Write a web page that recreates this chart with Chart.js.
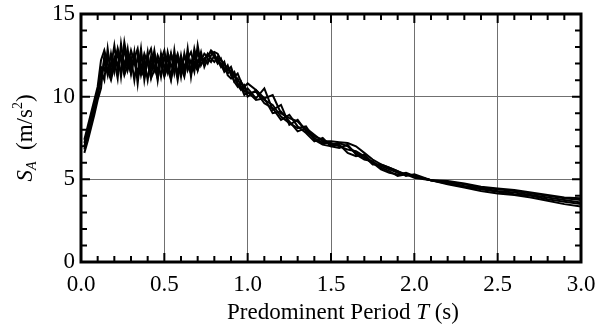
<!DOCTYPE html>
<html>
<head>
<meta charset="utf-8">
<script src="https://cdn.jsdelivr.net/npm/chart.js@4.4.1/dist/chart.umd.min.js"></script>
<style>
  html, body { margin: 0; padding: 0; background: #fff; }
  #wrap { width: 597px; height: 329px; }
</style>
</head>
<body>
<div id="wrap"><canvas id="spectra"></canvas></div>
<script>
// predominant period T (s) — shared grid for all records
const periods = [
  0.02, 0.04, 0.06, 0.08, 0.10, 0.12, 0.14, 0.16, 0.18, 0.20,
  0.22, 0.24, 0.26, 0.28, 0.30, 0.32, 0.34, 0.36, 0.38, 0.40,
  0.42, 0.44, 0.46, 0.48, 0.50, 0.52, 0.54, 0.56, 0.58, 0.60,
  0.62, 0.64, 0.66, 0.68, 0.70, 0.72, 0.74, 0.76, 0.78, 0.80,
  0.82, 0.84, 0.86, 0.88, 0.90, 0.92, 0.94, 0.96, 0.98, 1.00,
  1.05, 1.10, 1.15, 1.20, 1.25, 1.30, 1.35, 1.40, 1.45, 1.50,
  1.55, 1.60, 1.65, 1.70, 1.75, 1.80, 1.85, 1.90, 1.95, 2.00,
  2.10, 2.20, 2.30, 2.40, 2.50, 2.60, 2.70, 2.80, 2.90, 3.00
];

// S_A (m/s^2) of each record
const saWave1 = [
  6.8, 7.6, 8.4, 9.2, 10.1, 11.0, 12.2, 11.3, 12.6, 11.5,
  12.8, 11.2, 13.0, 11.6, 12.4, 11.0, 12.5, 11.3, 12.2, 11.0,
  12.4, 11.6, 12.3, 11.2, 12.5, 11.5, 12.6, 11.4, 12.4, 11.2,
  12.6, 11.6, 12.2, 11.5, 13.1, 11.9, 12.3, 12.0, 12.5, 12.7,
  12.6, 12.2, 12.0, 11.6, 11.8, 11.2, 11.4, 10.9, 10.6, 10.8,
  10.4, 9.9, 10.1, 9.0, 8.7, 8.5, 8.0, 7.6, 7.4, 7.1,
  7.2, 7.0, 6.6, 6.3, 6.0, 5.8, 5.6, 5.4, 5.3, 5.2,
  4.95, 4.8, 4.6, 4.45, 4.3, 4.2, 4.05, 3.9, 3.75, 3.6
];
const saWave2 = [
  7.2, 8.0, 8.8, 9.6, 10.4, 11.6, 11.0, 12.9, 11.4, 12.2,
  11.1, 13.2, 11.8, 12.9, 11.4, 12.7, 10.8, 12.6, 11.5, 12.7,
  11.2, 12.5, 11.0, 12.6, 11.7, 12.4, 11.1, 12.8, 11.3, 12.5,
  11.4, 12.9, 11.2, 12.6, 11.6, 12.4, 12.1, 12.6, 12.3, 12.1,
  12.4, 11.9, 11.6, 11.9, 11.3, 11.5, 10.8, 10.5, 10.7, 10.2,
  10.3, 9.6, 9.3, 8.6, 8.9, 8.2, 7.8, 7.3, 7.5, 7.0,
  6.9, 7.1, 6.5, 6.2, 6.1, 5.7, 5.5, 5.2, 5.3, 5.1,
  4.95, 4.7, 4.5, 4.3, 4.15, 4.05, 3.9, 3.7, 3.5, 3.35
];
const saWave3 = [
  6.6, 7.3, 8.1, 8.9, 9.8, 10.5, 12.5, 11.6, 11.0, 11.9,
  12.9, 12.2, 11.3, 11.9, 12.8, 12.1, 11.2, 11.7, 12.6, 12.0,
  11.1, 11.6, 12.5, 12.0, 11.2, 11.8, 12.6, 12.1, 11.3, 11.8,
  12.5, 11.9, 11.4, 12.0, 12.6, 12.2, 12.3, 12.5, 12.7, 12.4,
  12.0, 12.3, 11.7, 11.4, 11.6, 10.9, 10.6, 10.9, 10.3, 10.5,
  9.9, 10.5, 9.2, 9.5, 8.3, 8.6, 7.9, 7.5, 7.2, 7.2,
  7.0, 6.8, 6.7, 6.4, 5.9, 5.9, 5.7, 5.5, 5.2, 5.3,
  4.95, 4.85, 4.7, 4.5, 4.4, 4.3, 4.15, 4.0, 3.85, 3.75
];
const saWave4 = [
  7.0, 7.8, 8.6, 9.4, 10.0, 11.8, 11.6, 12.4, 11.8, 13.1,
  11.6, 12.5, 11.5, 12.6, 11.8, 12.2, 11.4, 12.9, 11.0, 12.3,
  11.7, 12.8, 11.5, 12.1, 11.3, 12.7, 11.8, 12.2, 11.0, 12.3,
  11.8, 12.4, 11.5, 12.9, 12.0, 12.7, 11.8, 12.3, 12.1, 12.5,
  12.2, 11.8, 12.1, 11.3, 11.1, 11.4, 10.7, 10.4, 10.6, 10.0,
  10.4, 9.8, 9.5, 8.8, 8.4, 8.1, 8.2, 7.4, 7.1, 7.0,
  7.1, 6.6, 6.4, 6.5, 6.0, 5.6, 5.4, 5.3, 5.4, 5.2,
  4.95, 4.75, 4.55, 4.4, 4.25, 4.1, 4.0, 3.8, 3.65, 3.5
];
const saWave5 = [
  7.4, 8.2, 9.0, 9.8, 10.6, 12.2, 12.8, 12.0, 11.2, 12.4,
  12.0, 11.5, 13.3, 12.1, 11.4, 12.3, 12.9, 11.6, 11.2, 12.4,
  12.9, 11.8, 11.1, 12.2, 12.8, 11.7, 11.0, 12.0, 12.6, 11.8,
  11.2, 12.3, 12.7, 11.9, 11.6, 12.2, 12.6, 12.4, 12.8, 12.6,
  12.1, 12.0, 11.5, 11.7, 11.4, 10.9, 11.1, 10.6, 10.1, 10.3,
  9.8, 9.9, 9.0, 9.1, 8.5, 7.9, 8.1, 7.7, 7.3, 7.3,
  7.25, 7.2, 7.0, 6.6, 6.2, 5.9, 5.7, 5.5, 5.3, 5.2,
  4.95, 4.9, 4.75, 4.55, 4.45, 4.35, 4.2, 4.05, 3.9, 3.85
];
const records = [saWave1, saWave2, saWave3, saWave4, saWave5];

const xTicks = [0, 0.5, 1.0, 1.5, 2.0, 2.5, 3.0];
const yTicks = [0, 5, 10, 15];

const SERIF = '"Liberation Serif", "DejaVu Serif", serif';

// draws a run of text pieces with different fonts / offsets, centred on (cx, cy)
function drawRuns(ctx, runs, cx, cy) {
  let total = 0;
  runs.forEach(r => { ctx.font = r.font; total += ctx.measureText(r.text).width; });
  let x = cx - total / 2;
  ctx.textBaseline = 'alphabetic';
  ctx.textAlign = 'left';
  runs.forEach(r => {
    ctx.font = r.font;
    ctx.fillText(r.text, x, cy + (r.dy || 0));
    x += ctx.measureText(r.text).width;
  });
}

// inward ticks on all four sides, heavy frame, axis titles
const frameAndTitles = {
  id: 'frameAndTitles',
  afterDatasetsDraw(chart) {
    const { ctx, chartArea: a, scales } = chart;
    const xs = scales.x, ys = scales.y;
    ctx.save();
    ctx.strokeStyle = '#000';
    ctx.lineWidth = 2;
    for (let i = 0; i <= 30; i++) {
      const px = xs.getPixelForValue(i / 10);
      const len = i % 5 === 0 ? 9 : 6;
      ctx.beginPath();
      ctx.moveTo(px, a.bottom); ctx.lineTo(px, a.bottom - len);
      ctx.moveTo(px, a.top); ctx.lineTo(px, a.top + len);
      ctx.stroke();
    }
    for (let i = 0; i <= 15; i++) {
      const py = ys.getPixelForValue(i);
      const len = i % 5 === 0 ? 9 : 6;
      ctx.beginPath();
      ctx.moveTo(a.left, py); ctx.lineTo(a.left + len, py);
      ctx.moveTo(a.right, py); ctx.lineTo(a.right - len, py);
      ctx.stroke();
    }
    ctx.lineWidth = 3;
    ctx.strokeRect(a.left, a.top, a.right - a.left, a.bottom - a.top);

    ctx.fillStyle = '#000';
    // x title
    drawRuns(ctx, [
      { text: 'Predominent Period ', font: '23px ' + SERIF },
      { text: 'T', font: 'italic 23px ' + SERIF },
      { text: ' (s)', font: '23px ' + SERIF }
    ], 343, 319);

    // y title, rotated
    ctx.translate(32, (a.top + a.bottom) / 2);
    ctx.rotate(-Math.PI / 2);
    drawRuns(ctx, [
      { text: 'S', font: 'italic 23px ' + SERIF },
      { text: 'A', font: 'italic 14px ' + SERIF, dy: 4 },
      { text: '  (m/s', font: '23px ' + SERIF },
      { text: '2', font: '14px ' + SERIF, dy: -10 },
      { text: ')', font: '23px ' + SERIF }
    ], 0, 0);
    ctx.restore();
  }
};

new Chart(document.getElementById('spectra'), {
  type: 'line',
  data: {
    datasets: records.map((r, k) => ({
      label: 'Record ' + (k + 1),
      data: periods.map((t, i) => ({ x: t, y: r[i] })),
      borderColor: '#000',
      borderWidth: 2,
      pointRadius: 0,
      tension: 0,
      fill: false
    }))
  },
  options: {
    responsive: true,
    maintainAspectRatio: false,
    animation: false,
    layout: { padding: { top: 14, right: 16, left: 0, bottom: 0 } },
    plugins: { legend: { display: false }, tooltip: { enabled: false } },
    scales: {
      x: {
        type: 'linear',
        min: 0, max: 3,
        afterBuildTicks: s => { s.ticks = xTicks.map(v => ({ value: v })); },
        afterFit: s => { s.height = 67; s.paddingLeft = 0; s.paddingRight = 0; },
        ticks: {
          callback: v => Number(v).toFixed(1),
          color: '#000',
          font: { family: SERIF, size: 23 },
          padding: 9,
          maxRotation: 0
        },
        grid: { color: '#707070', lineWidth: 1, drawTicks: false },
        border: { display: false }
      },
      y: {
        min: 0, max: 15,
        afterBuildTicks: s => { s.ticks = yTicks.map(v => ({ value: v })); },
        afterFit: s => { s.width = 81; s.paddingTop = 0; s.paddingBottom = 0; },
        ticks: {
          color: '#000',
          font: { family: SERIF, size: 23 },
          padding: 6
        },
        grid: { color: '#707070', lineWidth: 1, drawTicks: false },
        border: { display: false }
      }
    }
  },
  plugins: [frameAndTitles]
});
</script>
</body>
</html>
